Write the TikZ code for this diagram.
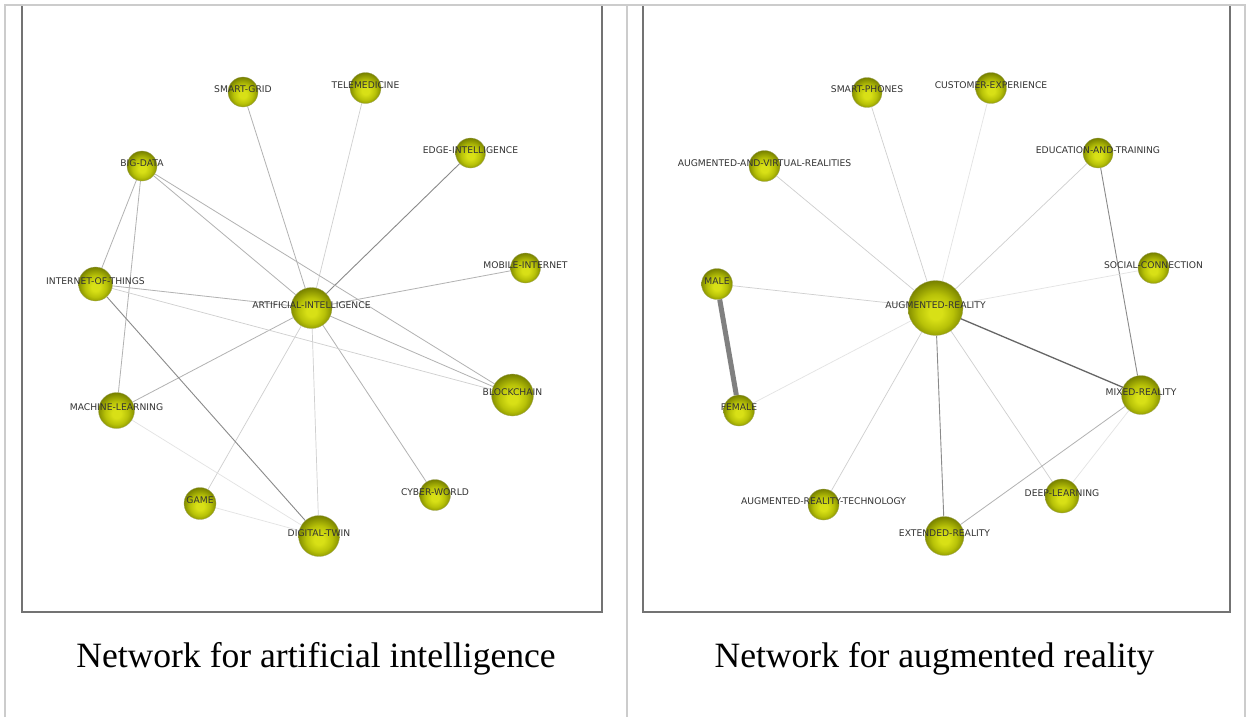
\documentclass[tikz,border=0pt]{standalone}
\usepackage{fontspec}
\usepackage{tikz}
\usetikzlibrary{backgrounds}

\newfontfamily\netfont{DejaVu Sans}
\newfontfamily\capfont{Liberation Serif}

\definecolor{orbhi}{RGB}{216,224,22}
\definecolor{orbmid}{RGB}{184,194,8}
\definecolor{orbrim}{RGB}{132,142,0}
\definecolor{orbdeep}{RGB}{104,112,0}
\pgfdeclareradialshading{orb}{\pgfpoint{0bp}{-5bp}}{color(0bp)=(orbhi); color(6bp)=(orbhi); color(16bp)=(orbmid); color(25bp)=(orbrim); color(30bp)=(orbdeep); color(50bp)=(orbdeep)}

\begin{document}
\begin{tikzpicture}[x=1pt, y=-1pt]

        % Styles
        \tikzstyle{keyword} = [circle, shading=orb, inner sep=0pt, draw=orbdeep!60, line width=0.3pt]
        \tikzstyle{tag} = [font=\netfont\fontsize{9.2}{10}\selectfont, text=black!80, inner sep=0pt, yshift=3pt]
        \tikzstyle{caption} = [font=\capfont\fontsize{35.6}{40}\selectfont, inner sep=0pt]
        \tikzstyle{linkfaint} = [draw=black!11, line width=0.7pt]
        \tikzstyle{linklight} = [draw=black!19, line width=0.7pt]
        \tikzstyle{linkmid} = [draw=black!30, line width=0.8pt]
        \tikzstyle{linkdark} = [draw=black!46, line width=0.9pt]
        \tikzstyle{linkheavy} = [draw=black!50, line width=5pt]
        \tikzstyle{frame} = [draw=black!20, line width=2pt]
        \tikzstyle{panel} = [draw=black!55, line width=1.3pt]

        \useasboundingbox (0,0) rectangle (1249,717);

        % Frames
        \draw[panel] (22,5) -- (22,612) -- (602,612) -- (602,5);
        \draw[panel] (643,5) -- (643,612) -- (1230,612) -- (1230,5);
        \draw[frame] (5,717) -- (5,5) -- (1245,5) -- (1245,717);
        \draw[frame] (627,5) -- (627,717);

        % Network A: artificial intelligence
        \node[keyword, minimum size=30pt, label={[tag]center:SMART-GRID}] (a0) at (243,92) {};
        \node[keyword, minimum size=31pt, label={[tag]center:TELEMEDICINE}] (a1) at (365.5,88) {};
        \node[keyword, minimum size=30pt, label={[tag]center:EDGE-INTELLIGENCE}] (a2) at (470.5,153) {};
        \node[keyword, minimum size=30pt, label={[tag]center:BIG-DATA}] (a3) at (142,166) {};
        \node[keyword, minimum size=34pt, label={[tag]center:INTERNET-OF-THINGS}] (a4) at (95.5,284) {};
        \node[keyword, minimum size=41pt, label={[tag]center:ARTIFICIAL-INTELLIGENCE}] (a5) at (311.5,308) {};
        \node[keyword, minimum size=30pt, label={[tag]center:MOBILE-INTERNET}] (a6) at (525.5,268) {};
        \node[keyword, minimum size=42pt, label={[tag]center:BLOCKCHAIN}] (a7) at (512.5,395) {};
        \node[keyword, minimum size=36pt, label={[tag]center:MACHINE-LEARNING}] (a8) at (116.5,410.5) {};
        \node[keyword, minimum size=32pt, label={[tag]center:GAME}] (a9) at (200,503.5) {};
        \node[keyword, minimum size=41pt, label={[tag]center:DIGITAL-TWIN}] (a10) at (319,536) {};
        \node[keyword, minimum size=31pt, label={[tag]center:CYBER-WORLD}] (a11) at (435,495) {};

        % Network B: augmented reality
        \node[keyword, minimum size=30pt, label={[tag]center:SMART-PHONES}] (r0) at (867,92.5) {};
        \node[keyword, minimum size=31pt, label={[tag]center:CUSTOMER-EXPERIENCE}] (r1) at (991,88) {};
        \node[keyword, minimum size=31pt, label={[tag]center:AUGMENTED-AND-VIRTUAL-REALITIES}] (r2) at (764.5,166) {};
        \node[keyword, minimum size=30pt, label={[tag]center:EDUCATION-AND-TRAINING}] (r3) at (1098,153) {};
        \node[keyword, minimum size=31pt, label={[tag]center:SOCIAL-CONNECTION}] (r4) at (1153.5,268) {};
        \node[keyword, minimum size=31pt, label={[tag]center:MALE}] (r5) at (717,284) {};
        \node[keyword, minimum size=55pt, label={[tag]center:AUGMENTED-REALITY}] (r6) at (935.5,308) {};
        \node[keyword, minimum size=39pt, label={[tag]center:MIXED-REALITY}] (r7) at (1141,395) {};
        \node[keyword, minimum size=31pt, label={[tag]center:FEMALE}] (r8) at (739,410.5) {};
        \node[keyword, minimum size=31pt, label={[tag]center:AUGMENTED-REALITY-TECHNOLOGY}] (r9) at (823.5,504.5) {};
        \node[keyword, minimum size=39pt, label={[tag]center:EXTENDED-REALITY}] (r10) at (944.5,536) {};
        \node[keyword, minimum size=34pt, label={[tag]center:DEEP-LEARNING}] (r11) at (1062,496) {};

        % Captions
        \node[caption, anchor=base] (capa) at (316,667) {Network for artificial intelligence};
        \node[caption, anchor=base] (capr) at (934.5,667) {Network for augmented reality};

        \begin{scope}[on background layer]
        \fill[white] (0,0) rectangle (1249,717);

        % Links for network A
        \draw[linkmid] (a0) -- (a5);
        \draw[linklight] (a1) -- (a5);
        \draw[linkdark] (a2) -- (a5);
        \draw[linkmid] (a6) -- (a5);
        \draw[linkmid] (a7) -- (a5);
        \draw[linkmid] (a11) -- (a5);
        \draw[linklight] (a10) -- (a5);
        \draw[linklight] (a9) -- (a5);
        \draw[linkmid] (a8) -- (a5);
        \draw[linkmid] (a4) -- (a5);
        \draw[linkmid] (a3) -- (a5);
        \draw[linkmid] (a3) -- (a4);
        \draw[linkmid] (a3) -- (a8);
        \draw[linkmid] (a3) -- (a7);
        \draw[linklight] (a4) -- (a7);
        \draw[linkdark] (a4) -- (a10);
        \draw[linkfaint] (a8) -- (a10);
        \draw[linkfaint] (a9) -- (a10);

        % Links for network B
        \draw[linklight] (r0) -- (r6);
        \draw[linkfaint] (r1) -- (r6);
        \draw[linklight] (r2) -- (r6);
        \draw[linklight] (r3) -- (r6);
        \draw[linkdark] (r3) -- (r7);
        \draw[linkfaint] (r4) -- (r6);
        \draw[linklight] (r5) -- (r6);
        \draw[linkheavy] (r5) -- (r8);
        \draw[linkfaint] (r8) -- (r6);
        \draw[linkdark, draw=black!60, line width=1.3pt] (r6) -- (r7);
        \draw[linklight] (r9) -- (r6);
        \draw[linkdark] (r6) -- (r10);
        \draw[linklight] (r6) -- (r11);
        \draw[linkmid] (r7) -- (r10);
        \draw[linkfaint] (r7) -- (r11);
        \end{scope}

\end{tikzpicture}
\end{document}
